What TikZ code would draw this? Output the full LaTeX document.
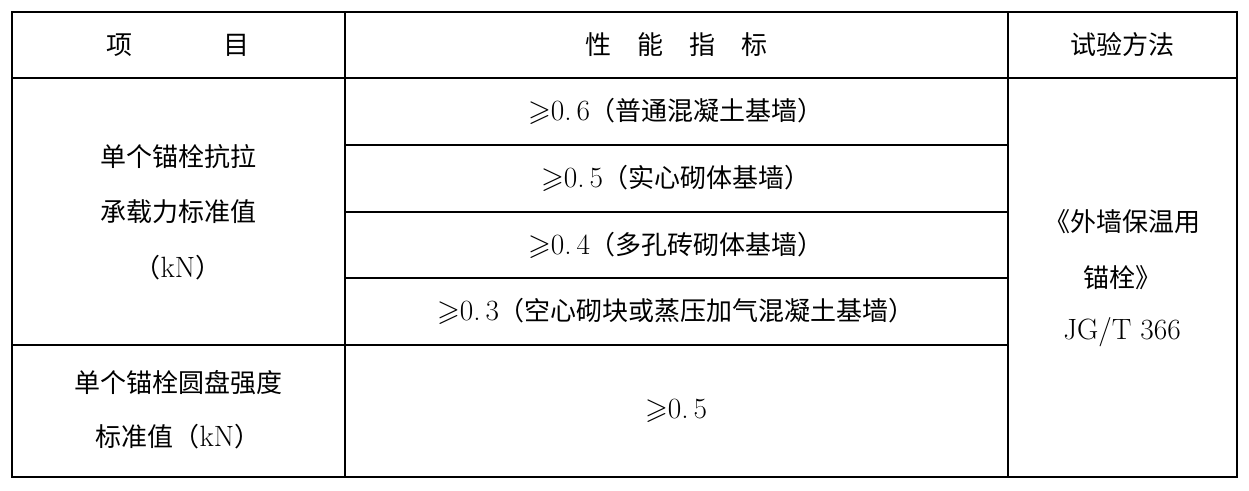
\documentclass[tikz,border=0pt]{standalone}
\usepackage{amssymb}
\usepackage{fontspec}
\newfontfamily\cjk{Noto Sans CJK SC}
\newcommand{\latn}[1]{{\fontsize{22}{22}\selectfont\rmfamily #1}}
\begin{document}
\begin{tikzpicture}[x=0.75pt,y=-0.75pt,
  t/.style={font=\fontsize{19.5}{20}\selectfont\cjk,inner sep=0pt,anchor=center},
  thin line/.style={line width=0.8pt},
  thick line/.style={line width=1.6pt}]
\useasboundingbox (0,0) rectangle (1249,490);
\draw[thick line] (12,12) rectangle (1237,477);
\draw[thin line] (12,78) -- (1237,78);
\draw[thin line] (345,12) -- (345,477);
\draw[thin line] (1008,12) -- (1008,477);
\draw[thin line] (345,145) -- (1008,145);
\draw[thin line] (345,212) -- (1008,212);
\draw[thin line] (345,278) -- (1008,278);
\draw[thin line] (12,345) -- (1008,345);
\node[t] (h1) at (178,45) {项\hspace{3.5em}目};
\node[t] (h2) at (676,45) {性\hspace{1em}能\hspace{1em}指\hspace{1em}标};
\node[t] (h3) at (1122,45) {试验方法};
\node[t] (a1) at (178,157) {单个锚栓抗拉};
\node[t] (a2) at (178,212) {承载力标准值};
\node[t] (a3) at (178,268) {（\latn{kN}）};
\node[t] (b1) at (178,383) {单个锚栓圆盘强度};
\node[t] (b2) at (178,437) {标准值（\latn{kN}）};
\node[t] (r1) at (676,111) {\latn{$\geqslant$0.\,6}（普通混凝土基墙）};
\node[t] (r2) at (676,178) {\latn{$\geqslant$0.\,5}（实心砌体基墙）};
\node[t] (r3) at (676,245) {\latn{$\geqslant$0.\,4}（多孔砖砌体基墙）};
\node[t] (r4) at (676,311) {\latn{$\geqslant$0.\,3}（空心砌块或蒸压加气混凝土基墙）};
\node[t] (r5) at (676,411) {\latn{$\geqslant$0.\,5}};
\node[t] (c1) at (1122,222) {《外墙保温用};
\node[t] (c2) at (1122,278) {锚栓》};
\node[t] (c3) at (1122,332) {\latn{JG/T 366}};
\end{tikzpicture}
\end{document}
